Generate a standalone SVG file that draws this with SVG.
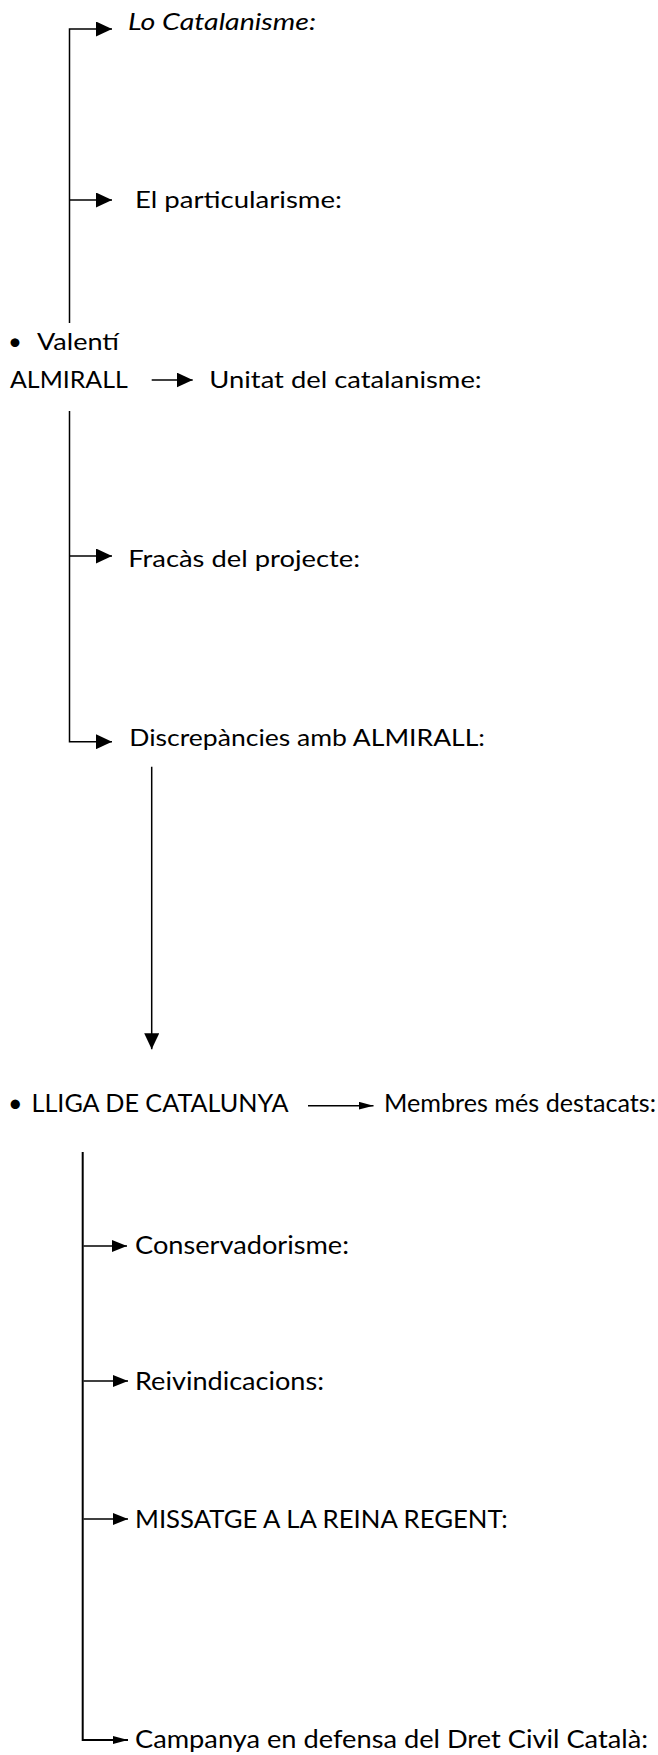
<svg xmlns="http://www.w3.org/2000/svg" width="658" height="1755" viewBox="0 0 658 1755">
<style>
  .t { font-family: Lato, "Open Sans", "Liberation Sans", sans-serif; font-size: 24px; fill: #000; }
  .tl { font-family: Lato, "Open Sans", "Liberation Sans", sans-serif; font-size: 25px; fill: #000; }
  .it { font-style: italic; }
  .c { fill: none; stroke: #000; stroke-width: 1.5; }
  .c2 { fill: none; stroke: #000; stroke-width: 2; }
</style>
<defs>
  <marker id="ah" markerUnits="userSpaceOnUse" markerWidth="16" markerHeight="15" refX="16" refY="7.5" orient="auto">
    <path d="M0,0 L16,7.5 L0,15 Z" fill="#000"/>
  </marker>
  <marker id="ahs" markerUnits="userSpaceOnUse" markerWidth="15" markerHeight="12" refX="15" refY="6" orient="auto">
    <path d="M0,0 L15,6 L0,12 Z" fill="#000"/>
  </marker>
  <marker id="ahf" markerUnits="userSpaceOnUse" markerWidth="15" markerHeight="8" refX="15" refY="4" orient="auto">
    <path d="M0,0 L15,4 L0,8 Z" fill="#000"/>
  </marker>
</defs>
<rect width="658" height="1755" fill="#fff"/>
<g id="connectors">
  <path class="c" d="M69.5,323 V29 H112" marker-end="url(#ah)"/>
  <path class="c" d="M69.5,200 H112" marker-end="url(#ah)"/>
  <path class="c" d="M151.7,380 H192.7" marker-end="url(#ah)"/>
  <path class="c" d="M69.5,411 V741.7 H112" marker-end="url(#ah)"/>
  <path class="c" d="M69.5,556 H112" marker-end="url(#ah)"/>
  <path class="c" d="M151.7,766.7 V1049.3" marker-end="url(#ah)"/>
  <path class="c" d="M308,1105.7 H373.5" marker-end="url(#ahf)"/>
  <path class="c2" d="M82.7,1152 V1740 H128" marker-end="url(#ahf)"/>
  <path class="c" d="M83.5,1246 H127" marker-end="url(#ahs)"/>
  <path class="c" d="M83.5,1381 H128" marker-end="url(#ahs)"/>
  <path class="c" d="M83.5,1519 H128" marker-end="url(#ahs)"/>
</g>
<g id="lo-catalanisme"><text class="t it" x="128" y="30" textLength="188" lengthAdjust="spacingAndGlyphs">Lo Catalanisme:</text></g>
<g id="el-particularisme"><text class="t" x="135" y="208" textLength="207" lengthAdjust="spacingAndGlyphs">El particularisme:</text></g>
<g id="valenti-almirall">
  <text class="t" x="8" y="350">•</text>
  <text class="t" x="37" y="350" textLength="82" lengthAdjust="spacingAndGlyphs">Valentí</text>
  <text class="t" x="10" y="388.3" textLength="117.7" lengthAdjust="spacingAndGlyphs">ALMIRALL</text>
</g>
<g id="unitat"><text class="t" x="209.3" y="388.3" textLength="272.4" lengthAdjust="spacingAndGlyphs">Unitat del catalanisme:</text></g>
<g id="fracas"><text class="t" x="128.3" y="567.3" textLength="231.7" lengthAdjust="spacingAndGlyphs">Fracàs del projecte:</text></g>
<g id="discrepancies"><text class="t" x="129.3" y="745.7" textLength="355.7" lengthAdjust="spacingAndGlyphs">Discrepàncies amb ALMIRALL:</text></g>
<g id="lliga">
  <text class="tl" x="8" y="1112">•</text>
  <text class="tl" x="31.5" y="1112" textLength="257" lengthAdjust="spacingAndGlyphs">LLIGA DE CATALUNYA</text>
</g>
<g id="membres"><text class="tl" x="384" y="1112" textLength="272" lengthAdjust="spacingAndGlyphs">Membres més destacats:</text></g>
<g id="conservadorisme"><text class="tl" x="135" y="1254" textLength="214" lengthAdjust="spacingAndGlyphs">Conservadorisme:</text></g>
<g id="reivindicacions"><text class="tl" x="135" y="1390" textLength="189" lengthAdjust="spacingAndGlyphs">Reivindicacions:</text></g>
<g id="missatge"><text class="tl" x="135" y="1528" textLength="372.7" lengthAdjust="spacingAndGlyphs">MISSATGE A LA REINA REGENT:</text></g>
<g id="campanya"><text class="tl" x="135" y="1748" textLength="513" lengthAdjust="spacingAndGlyphs">Campanya en defensa del Dret Civil Català:</text></g>
</svg>
